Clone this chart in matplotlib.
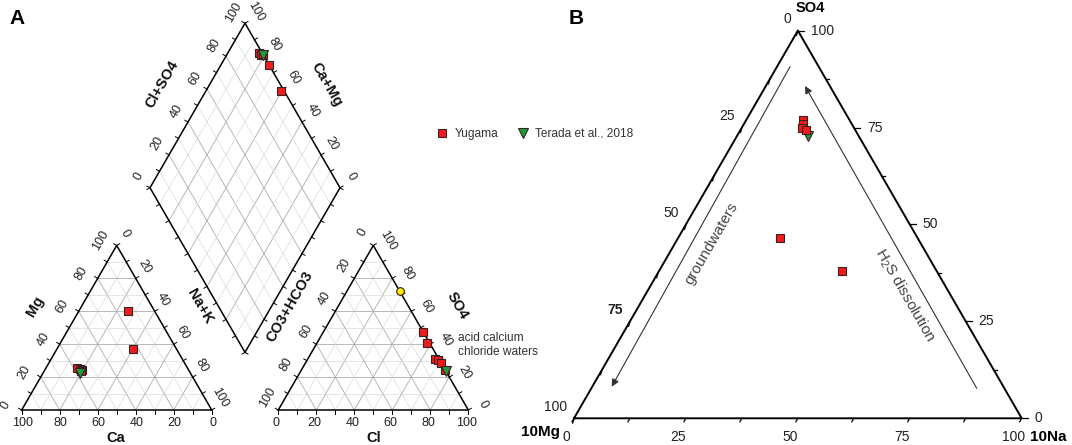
import numpy as np
import matplotlib.pyplot as plt

plt.rcParams['font.family'] = ['Liberation Sans', 'DejaVu Sans']
plt.rcParams['mathtext.fontset'] = 'custom'
plt.rcParams['mathtext.rm'] = 'Liberation Sans'

# ---- panel A: Piper diagram, % of meq/L ----
yug_ca = [14.0, 23.0, 58.4, 57.0, 56.3, 57.0]
yug_mg = [60.4, 37.1, 25.3, 24.7, 24.3, 24.0]
yug_nak = [25.6, 39.9, 16.3, 18.3, 19.4, 19.0]
yug_hco3 = [0.0, 1.5, 2.0, 1.0, 0.0, 0.0]
yug_so4 = [47.2, 40.5, 30.8, 30.4, 28.4, 24.3]
yug_cl = [52.8, 58.0, 67.2, 68.6, 71.6, 75.7]

ter_ca = [57.9]
ter_mg = [22.7]
ter_nak = [19.4]
ter_hco3 = [0.0]
ter_so4 = [23.7]
ter_cl = [76.3]

# yellow point, anion triangle only
ref_hco3 = [0.0]
ref_so4 = [72.3]
ref_cl = [27.7]

# ---- panel B: 10Mg - 10Na - SO4 ----
yugB_na = [22.8, 40.8, 12.8, 13.2, 13.5, 14.6]
yugB_mg = [30.7, 21.3, 10.3, 11.0, 11.5, 11.1]
yugB_so4 = [46.5, 37.9, 76.9, 75.8, 75.0, 74.3]

terB_na = [15.8]
terB_mg = [11.4]
terB_so4 = [72.8]

RED = '#f01c1c'
GREEN = '#1c9a3c'
YELLOW = '#ffec00'
EDGE = '#3a2020'

H = np.sqrt(3) / 2
SIDE = 190.0
GAP = 66.6
BASE_Y = 410.0
CAT_X0 = 21.7
AN_X0 = CAT_X0 + SIDE + GAP
DIA_B = (CAT_X0 + SIDE + GAP / 2, BASE_Y - GAP * H)

B_X0, B_Y0, B_SIDE = 574.0, 418.3, 447.7


def tri_xy(right, top, x0, y0, side):
    """Percent toward bottom-right and top vertex -> pixel coords."""
    right, top = np.broadcast_arrays(np.atleast_1d(np.asarray(right, float)),
                                     np.atleast_1d(np.asarray(top, float)))
    return x0 + side * (right + top / 2) / 100, y0 - side * H * top / 100


def dia_xy(a, c):
    """a = Cl+SO4, c = Ca+Mg (percent) -> pixel coords in the diamond."""
    a, c = np.broadcast_arrays(np.atleast_1d(np.asarray(a, float)) / 100,
                               np.atleast_1d(np.asarray(c, float)) / 100)
    return DIA_B[0] + SIDE / 2 * (a - c), DIA_B[1] - SIDE * H * (a + c)


def grid_style(v):
    return ('#adadad', 0.6) if v % 20 == 0 else ('#dadada', 0.5)


def draw_tri(ax, x0):
    for v in range(10, 100, 10):
        col, lw = grid_style(v)
        for (r0, t0), (r1, t1) in [((v, 0), (v, 100 - v)),
                                   ((0, v), (100 - v, v)),
                                   ((100 - v, 0), (0, 100 - v))]:
            xs, ys = tri_xy([r0, r1], [t0, t1], x0, BASE_Y, SIDE)
            ax.plot(xs, ys, color=col, lw=lw, zorder=1)
    xs, ys = tri_xy([0, 100, 0, 0], [0, 0, 100, 0], x0, BASE_Y, SIDE)
    ax.plot(xs, ys, color='k', lw=1.1, zorder=3)
    vals = np.arange(0, 101, 10)
    # ticks: bottom, left, right
    for px, py, (dx, dy) in [
            (*tri_xy(vals, 0, x0, BASE_Y, SIDE), (0, 1)),
            (*tri_xy(0, vals, x0, BASE_Y, SIDE), (-H, -0.5)),
            (*tri_xy(vals, 100 - vals, x0, BASE_Y, SIDE), (H, -0.5))]:
        for x, y in zip(px, py):
            ax.plot([x, x + 3.5 * dx], [y, y + 3.5 * dy], color='k',
                    lw=0.7, zorder=3)


def label_edge(ax, xs, ys, labels, off, rot, size=9, **kw):
    for x, y, s in zip(xs, ys, labels):
        ax.text(x + off[0], y + off[1], s, rotation=rot, ha='center',
                va='center', fontsize=size, color='#222222', **kw)


def draw_diamond(ax):
    for v in range(10, 100, 10):
        col, lw = grid_style(v)
        xs, ys = dia_xy([v, v], [0, 100])
        ax.plot(xs, ys, color=col, lw=lw, zorder=1)
        xs, ys = dia_xy([0, 100], [v, v])
        ax.plot(xs, ys, color=col, lw=lw, zorder=1)
    xs, ys = dia_xy([0, 100, 100, 0, 0], [0, 0, 100, 100, 0])
    ax.plot(xs, ys, color='k', lw=1.1, zorder=3)
    vals = np.arange(0, 101, 10)
    for px, py, (dx, dy) in [
            (*dia_xy(vals, 100), (-H, -0.5)),
            (*dia_xy(100, vals), (H, -0.5)),
            (*dia_xy(vals, 0), (H, 0.5)),
            (*dia_xy(0, vals), (-H, 0.5))]:
        for x, y in zip(px, py):
            ax.plot([x, x + 3.5 * dx], [y, y + 3.5 * dy], color='k',
                    lw=0.7, zorder=3)


fig = plt.figure(figsize=(10.72, 4.45), dpi=100)
ax = fig.add_axes([0, 0, 1, 1])
ax.set_xlim(0, 1072)
ax.set_ylim(445, 0)
ax.axis('off')

# ---------------- panel A ----------------
draw_tri(ax, CAT_X0)
draw_tri(ax, AN_X0)
draw_diamond(ax)

lab = np.arange(0, 101, 20)
txt = [str(v) for v in lab]
# cation triangle
label_edge(ax, *tri_xy(100 - lab, 0, CAT_X0, BASE_Y, SIDE), txt, (1, 12.5), 0)
label_edge(ax, *tri_xy(0, lab, CAT_X0, BASE_Y, SIDE), txt, (-16, -5), 60)
label_edge(ax, *tri_xy(lab, 100 - lab, CAT_X0, BASE_Y, SIDE), txt,
           (8.5, -12), -60)
# anion triangle
label_edge(ax, *tri_xy(lab, 0, AN_X0, BASE_Y, SIDE), txt, (-2, 12.5), 0)
label_edge(ax, *tri_xy(0, 100 - lab, AN_X0, BASE_Y, SIDE), txt,
           (-10.5, -12.5), 60)
label_edge(ax, *tri_xy(100 - lab, lab, AN_X0, BASE_Y, SIDE), txt,
           (15, -5), -60)
# diamond
label_edge(ax, *dia_xy(lab, 100), txt, (-11.5, -11), 60)
label_edge(ax, *dia_xy(100, lab), txt, (10.5, -11.5), -60)

title_kw = dict(fontsize=10.5, fontweight='bold', ha='center', va='center',
                color='#111111')
ax.text(35, 306, 'Mg', rotation=60, **title_kw)
ax.text(200, 306, 'Na+K', rotation=-60, **title_kw)
ax.text(116, 438, 'Ca', **title_kw)
ax.text(374, 438, 'Cl', **title_kw)
ax.text(290, 307, 'CO3+HCO3', rotation=60, **title_kw)
ax.text(457, 306, 'SO4', rotation=-60, **title_kw)
ax.text(162, 84, 'Cl+SO4', rotation=60, **title_kw)
ax.text(327, 85, 'Ca+Mg', rotation=-60, **title_kw)

mk = dict(ls='none', mec=EDGE, mew=0.8, zorder=5)
# cation points
x, y = tri_xy(yug_nak, yug_mg, CAT_X0, BASE_Y, SIDE)
h_yug, = ax.plot(x, y, marker='s', ms=6.3, mfc=RED, label='Yugama', **mk)
x, y = tri_xy(ter_nak, ter_mg, CAT_X0, BASE_Y, SIDE)
h_ter, = ax.plot(x, y, marker='v', ms=7, mfc=GREEN,
                 label='Terada et al., 2018', **mk)
# anion points
x, y = tri_xy(yug_cl, yug_so4, AN_X0, BASE_Y, SIDE)
ax.plot(x, y, marker='s', ms=6.3, mfc=RED, **mk)
x, y = tri_xy(ter_cl, ter_so4, AN_X0, BASE_Y, SIDE)
ax.plot(x, y, marker='v', ms=7, mfc=GREEN, **mk)
x, y = tri_xy(ref_cl, ref_so4, AN_X0, BASE_Y, SIDE)
ax.plot(x, y, marker='o', ms=5.5, mfc=YELLOW, **mk)
# diamond points
x, y = dia_xy(100 - np.array(yug_hco3), np.add(yug_ca, yug_mg))
ax.plot(x, y, marker='s', ms=6.3, mfc=RED, **mk)
x, y = dia_xy(100 - np.array(ter_hco3), np.add(ter_ca, ter_mg))
ax.plot(x, y, marker='v', ms=7, mfc=GREEN, **mk)

ax.text(458, 345, 'acid calcium\nchloride waters', fontsize=8.6,
        color='#333333', ha='left', va='center', linespacing=1.15)

ax.legend(handles=[h_yug, h_ter], loc='center left',
          bbox_to_anchor=(436.5, 134), bbox_transform=ax.transData,
          ncol=2, frameon=False, borderpad=0, borderaxespad=0,
          handlelength=1.0, handletextpad=0.5, columnspacing=1.6,
          numpoints=1, prop={'size': 8.6}, labelcolor='#333333')

ax.text(17, 19, 'A', fontsize=15, fontweight='bold', ha='center',
        va='center')
ax.text(576, 19, 'B', fontsize=15, fontweight='bold', ha='center',
        va='center')

# ---------------- panel B ----------------
xs, ys = tri_xy([0, 100, 0, 0], [0, 0, 100, 0], B_X0, B_Y0, B_SIDE)
ax.plot(xs, ys, color='k', lw=1.4, zorder=3)

tv = np.arange(0, 100.1, 12.5)
bx, by = tri_xy(tv, 0, B_X0, B_Y0, B_SIDE)
for x, y in zip(bx, by):
    ax.plot([x, x - 0.5 * 4], [y, y + H * 4], color='k', lw=0.9, zorder=3)
lx, ly = tri_xy(0, 100 - tv, B_X0, B_Y0, B_SIDE)
for x, y in zip(lx, ly):
    ax.plot([x, x - 0.26 * 5], [y, y + 0.97 * 5], color='k', lw=0.9,
            zorder=3)
rx, ry = tri_xy(100 - tv, tv, B_X0, B_Y0, B_SIDE)
for i, (x, y) in enumerate(zip(rx, ry)):
    ln = 6 if i % 2 == 0 else 3.5
    ax.plot([x, x + ln], [y, y], color='k', lw=0.9, zorder=3)

bl = np.arange(0, 101, 25)
for x, y, v in zip(*tri_xy(bl, 0, B_X0, B_Y0, B_SIDE), bl):
    ax.text(x - 8, y + 18.5, str(v), fontsize=10, ha='center', va='center',
            color='#222222')
for x, y, v in zip(*tri_xy(0, 100 - bl, B_X0, B_Y0, B_SIDE), bl):
    ax.text(x - 7, y - 11.5, str(v), fontsize=10, ha='right', va='center',
            color='#222222', fontweight='bold' if v == 75 else 'normal')
for x, y, v in zip(*tri_xy(100 - bl, bl, B_X0, B_Y0, B_SIDE), bl):
    ax.text(x + 13, y, str(v), fontsize=10, ha='left', va='center',
            color='#222222')

ax.text(810, 8, 'SO4', fontsize=10.5, fontweight='bold', ha='center',
        va='center')
ax.text(540, 432, '10Mg', fontsize=11, fontweight='bold', ha='center',
        va='center')
ax.text(1030, 437, '10Na', fontsize=11, fontweight='bold', ha='left',
        va='center')

arrow = dict(arrowstyle='-|>', color='#333333', lw=0.8, mutation_scale=11,
             shrinkA=0, shrinkB=0)
ax.annotate('', xy=(611.7, 386.7), xytext=(790, 66.7), arrowprops=arrow)
ax.annotate('', xy=(805, 86), xytext=(976.7, 388.3), arrowprops=arrow)
ax.text(711.7, 243.3, 'groundwaters', rotation=60, fontsize=11,
        color='#444444', ha='center', va='center')
ax.text(905, 295, r'H$_\mathregular{2}$S dissolution', rotation=-60,
        fontsize=11, color='#444444', ha='center', va='center')

x, y = tri_xy(terB_na, terB_so4, B_X0, B_Y0, B_SIDE)
ax.plot(x, y, marker='v', ms=6.5, mfc=GREEN, **mk)
x, y = tri_xy(yugB_na, yugB_so4, B_X0, B_Y0, B_SIDE)
ax.plot(x, y, marker='s', ms=5.2, mfc=RED, **mk)

fig.savefig('out.png', dpi=100)
